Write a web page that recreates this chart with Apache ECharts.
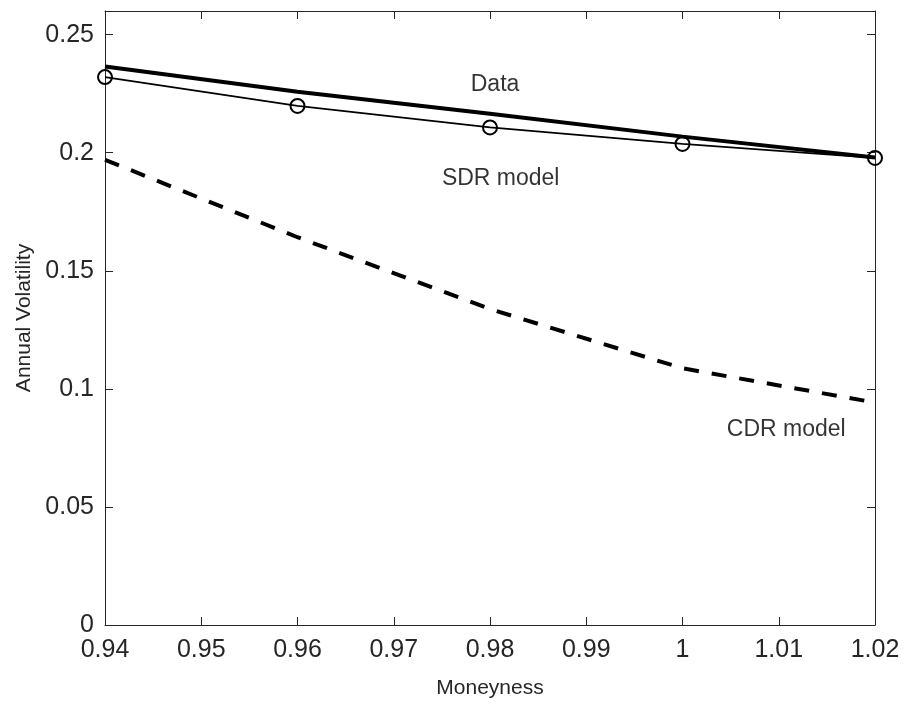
<!DOCTYPE html>
<html>
<head>
<meta charset="utf-8">
<script src="https://cdn.jsdelivr.net/npm/echarts@6/dist/echarts.min.js"></script>
<style>html,body{margin:0;padding:0;background:#fff;}#chart{width:906px;height:704px;}</style>
</head>
<body>
<div id="chart"></div>
<script>
var moneyness = [0.94, 0.96, 0.98, 1.00, 1.02];
var dataVol = [0.2365, 0.2258, 0.2165, 0.2068, 0.1980];
var sdrVol = [0.2320, 0.2198, 0.2107, 0.2037, 0.1978];
var cdrVol = [0.1970, 0.1642, 0.1338, 0.1087, 0.0942];
var annotations = [
  {text: 'Data', x: 0.978, y: 0.2288},
  {text: 'SDR model', x: 0.975, y: 0.1888},
  {text: 'CDR model', x: 1.0046, y: 0.0828}
];
var xTitle = 'Moneyness';
var yTitle = 'Annual Volatility';

function pairs(xs, ys) { return xs.map(function (x, i) { return [x, ys[i]]; }); }

var FONT = 'Liberation Sans';
var AX = '#262626';
var fmtX = function (v) { return String(+(+v).toFixed(2)); };
var fmtY = function (v) { return String(+(+v).toFixed(2)); };

var baseX = {
  type: 'value', min: 0.94, max: 1.02, interval: 0.01,
  axisLine: {show: true, onZero: false, lineStyle: {color: AX, width: 1}},
  axisTick: {show: true, inside: true, length: 8, lineStyle: {color: AX, width: 1}},
  splitLine: {show: false}
};
var baseY = {
  type: 'value', min: 0, max: 0.26, interval: 0.05,
  axisLine: {show: true, onZero: false, lineStyle: {color: AX, width: 1}},
  axisTick: {show: true, inside: true, length: 8, lineStyle: {color: AX, width: 1}},
  splitLine: {show: false}
};

var chart = echarts.init(document.getElementById('chart'), null, {renderer: 'canvas'});
chart.setOption({
  backgroundColor: '#ffffff',
  animation: false,
  grid: {left: 105, right: 31, top: 11, bottom: 77, containLabel: false},
  xAxis: [
    Object.assign({}, baseX, {
      position: 'bottom',
      name: xTitle, nameLocation: 'middle', nameGap: 53,
      nameTextStyle: {fontFamily: FONT, fontSize: 21, color: AX},
      axisLabel: {show: true, margin: 13, fontFamily: FONT, fontSize: 25, color: AX, formatter: fmtX}
    }),
    Object.assign({}, baseX, {position: 'top', axisLabel: {show: false}})
  ],
  yAxis: [
    Object.assign({}, baseY, {
      position: 'left',
      name: yTitle, nameLocation: 'middle', nameGap: 68,
      nameTextStyle: {fontFamily: FONT, fontSize: 21, color: AX},
      axisLabel: {show: true, margin: 11, fontFamily: FONT, fontSize: 25, color: AX, formatter: fmtY, showMaxLabel: false}
    }),
    Object.assign({}, baseY, {position: 'right', axisLabel: {show: false}})
  ],
  series: [
    {
      name: 'CDR model', type: 'line', xAxisIndex: 0, yAxisIndex: 0,
      data: pairs(moneyness, cdrVol), showSymbol: false, symbol: 'none',
      lineStyle: {color: '#000', width: 4, type: [15, 13], cap: 'butt'}, z: 2
    },
    {
      name: 'SDR model', type: 'line', xAxisIndex: 0, yAxisIndex: 0,
      data: pairs(moneyness, sdrVol), symbol: 'circle', symbolSize: 14, showSymbol: true,
      itemStyle: {color: 'rgba(255,255,255,0)', borderColor: '#000', borderWidth: 2},
      lineStyle: {color: '#000', width: 1.8}, z: 3
    },
    {
      name: 'Data', type: 'line', xAxisIndex: 0, yAxisIndex: 0,
      data: pairs(moneyness, dataVol), showSymbol: false, symbol: 'none',
      lineStyle: {color: '#000', width: 4}, z: 4
    },
    {
      name: 'labels', type: 'scatter', xAxisIndex: 0, yAxisIndex: 0,
      data: annotations.map(function (a) { return {value: [a.x, a.y], name: a.text}; }),
      symbolSize: 0, silent: true,
      label: {show: true, position: 'right', distance: 0, formatter: '{b}',
        fontFamily: FONT, fontSize: 23, color: '#000', align: 'left', verticalAlign: 'middle'}, z: 5
    }
  ]
});
</script>
</body>
</html>
